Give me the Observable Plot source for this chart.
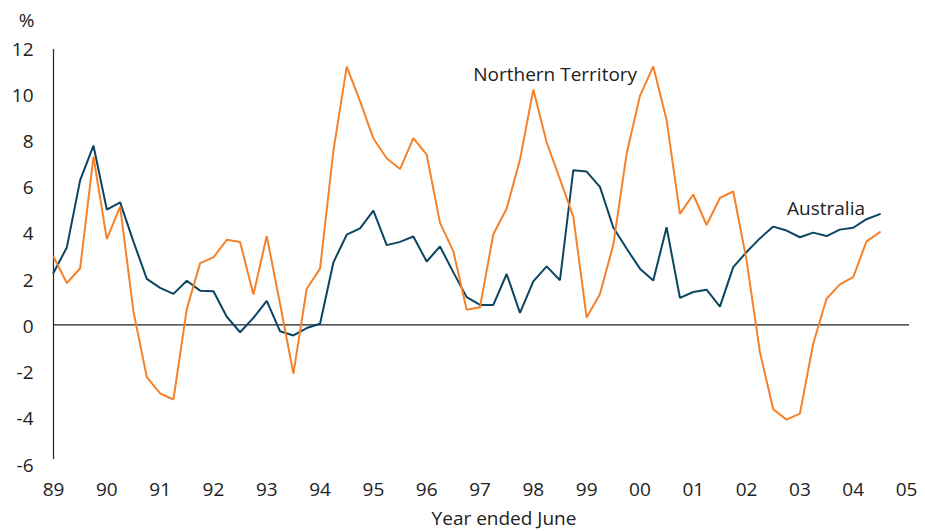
<!DOCTYPE html>
<html>
<head>
<meta charset="utf-8">
<script src="https://cdn.jsdelivr.net/npm/d3@7"></script>
<script src="https://cdn.jsdelivr.net/npm/@observablehq/plot@0.6"></script>
<style>
  html, body { margin: 0; padding: 0; background: #fff; }
  #chart svg { display: block; }
</style>
</head>
<body>
<div id="chart"></div>
<script>
// Quarterly observations, first quarter at 1989 (year ended June)
const startYear = 1989;
const australia = [
  2.25, 3.35, 6.26, 7.75, 4.99, 5.30, 3.60, 1.99, 1.60, 1.34,
  1.91, 1.48, 1.45, 0.35, -0.32, 0.30, 1.04, -0.28, -0.46, -0.14,
  0.05, 2.70, 3.90, 4.17, 4.94, 3.45, 3.59, 3.82, 2.74, 3.39,
  2.27, 1.20, 0.86, 0.86, 2.20, 0.52, 1.88, 2.53, 1.93, 6.69,
  6.63, 5.97, 4.21, 3.30, 2.43, 1.92, 4.22, 1.17, 1.42, 1.52,
  0.79, 2.50, 3.15, 3.74, 4.25, 4.08, 3.79, 3.99, 3.84, 4.12,
  4.20, 4.57, 4.79
];
const northernTerritory = [
  2.95, 1.81, 2.45, 7.28, 3.71, 5.12, 0.57, -2.26, -2.97, -3.23,
  0.69, 2.67, 2.92, 3.68, 3.58, 1.31, 3.84, 0.90, -2.11, 1.56,
  2.43, 7.53, 11.17, 9.68, 8.06, 7.21, 6.74, 8.08, 7.36, 4.41,
  3.18, 0.65, 0.76, 3.92, 5.03, 7.15, 10.18, 7.90, 6.30, 4.68,
  0.32, 1.33, 3.46, 7.40, 9.91, 11.18, 8.86, 4.80, 5.64, 4.32,
  5.49, 5.77, 2.80, -1.18, -3.65, -4.10, -3.84, -0.82, 1.13, 1.75,
  2.06, 3.61, 4.01
];
const xTicks = d3.range(1989, 2006);
const xTickLabels = ["89","90","91","92","93","94","95","96","97","98","99","00","01","02","03","04","05"];
const yTicks = [-6, -4, -2, 0, 2, 4, 6, 8, 10, 12];
const seriesNames = ["Australia", "Northern Territory"];
const seriesColors = ["#0b4562", "#f5822a"];
const labelNames = ["Northern Territory", "Australia"];
const labelX = [1998.41, 2003.49];
const labelY = [10.83, 5.03];

const toRows = (arr, name) => arr.map((v, i) => ({date: startYear + i / 4, value: v, series: name}));
const rows = [...toRows(australia, "Australia"), ...toRows(northernTerritory, "Northern Territory")];
const labels = labelNames.map((n, i) => ({name: n, x: labelX[i], y: labelY[i]}));

const FS = 19;
const chart = Plot.plot({
  width: 925,
  height: 531,
  marginLeft: 53,
  marginRight: 19,
  marginTop: 47,
  marginBottom: 68,
  style: {fontFamily: "'Open Sans', 'Noto Sans', sans-serif", fontSize: FS + "px", color: "#222", background: "#fff"},
  x: {domain: [1989, 2005], label: null},
  y: {domain: [-6, 12], label: null},
  color: {domain: seriesNames, range: seriesColors},
  marks: [
    Plot.axisX({ticks: xTicks, tickFormat: d => xTickLabels[xTicks.indexOf(d)], tickSize: 0, tickPadding: 19, fontSize: FS, fill: "#222", label: null}),
    Plot.axisY({ticks: yTicks, tickFormat: d => String(d), tickSize: 0, tickPadding: 20, dy: 2, fontSize: FS, fill: "#222", label: null}),
    Plot.ruleX([1989], {y1: -6, y2: 12, stroke: "#222", strokeWidth: 1.2, insetTop: -4, insetBottom: -2}),
    Plot.ruleY([0], {stroke: "#222", strokeWidth: 1.2, insetRight: -3}),
    Plot.line(rows, {x: "date", y: "value", z: "series", stroke: "series", strokeWidth: 2, strokeLinejoin: "miter"}),
    Plot.text(labels, {x: "x", y: "y", text: "name", fill: "#222", fontSize: FS, textAnchor: "middle"}),
    Plot.text(["%"], {frameAnchor: "top-left", dx: -27, dy: -27, fill: "#222", fontSize: FS, textAnchor: "middle", lineAnchor: "middle"}),
    Plot.text(["Year ended June"], {frameAnchor: "bottom", dx: 24, dy: 55, fill: "#222", fontSize: FS, textAnchor: "middle", lineAnchor: "middle"})
  ]
});
document.getElementById("chart").appendChild(chart);
</script>
</body>
</html>
